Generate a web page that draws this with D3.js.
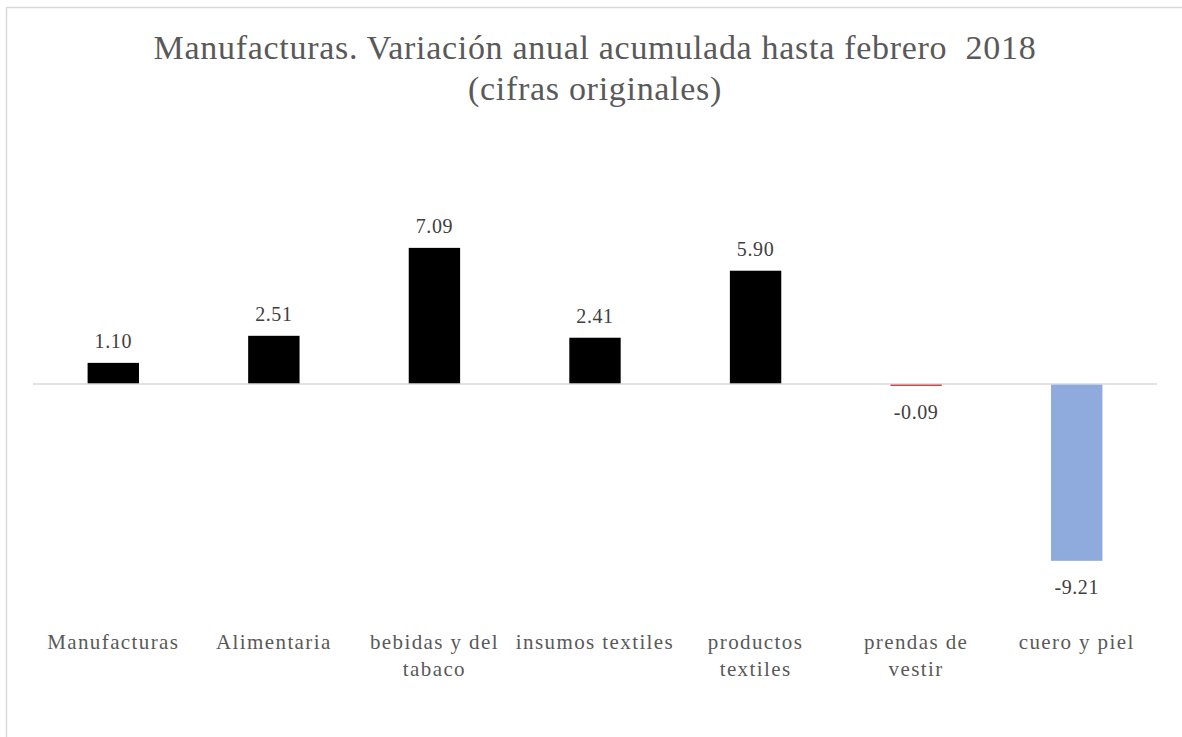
<meta charset="utf-8">
<style>
    body { margin: 0; background: #ffffff; }
    text { font-family: "Liberation Serif", "DejaVu Serif", serif; white-space: pre; }
</style>
<body>
<script src="https://d3js.org/d3.v7.min.js"></script>
<script>
    const categories = ["Manufacturas", "Alimentaria", "bebidas y del tabaco", "insumos textiles",
        "productos textiles", "prendas de vestir", "cuero y piel"];
    const labelLines = [["Manufacturas"], ["Alimentaria"], ["bebidas y del", "tabaco"], ["insumos textiles"],
        ["productos", "textiles"], ["prendas de", "vestir"], ["cuero y piel"]];
    const values = [1.10, 2.51, 7.09, 2.41, 5.90, -0.09, -9.21];
    const barColors = ["#000000", "#000000", "#000000", "#000000", "#000000", "#c00000", "#8faadc"];
    const titleLines = ["Manufacturas. Variación anual acumulada hasta febrero  2018", "(cifras originales)"];

    let width = 1182, height = 737;

    let svg = d3.select("body").append("svg")
        .attr("width", width)
        .attr("height", height);

    // chart frame
    svg.append("rect")
        .attr("x", 6.5).attr("y", 7.5)
        .attr("width", 1200).attr("height", 760)
        .style("fill", "none")
        .style("stroke", "#d9d9d9")
        .style("stroke-width", 1.5);

    svg.selectAll(".title")
        .data(titleLines)
        .enter().append("text")
        .attr("x", 595)
        .attr("y", function (d, i) { return 59 + i * 41; })
        .attr("text-anchor", "middle")
        .style("font-size", "34px")
        .style("letter-spacing", "0.7px")
        .style("fill", "#595959")
        .text(function (d) { return d; });

    let xScale = d3.scaleBand()
        .domain(categories)
        .range([33, 1157])
        .paddingInner(0.68)
        .paddingOuter(0.34);

    let yScale = d3.scaleLinear()
        .domain([-10, 8])
        .range([384 + 10 * 19.2, 384 - 8 * 19.2]);

    svg.selectAll(".bar")
        .data(values)
        .enter().append("rect")
        .attr("x", function (d, i) { return xScale(categories[i]); })
        .attr("y", function (d) { return yScale(Math.max(0, d)); })
        .attr("width", xScale.bandwidth())
        .attr("height", function (d) { return Math.max(1.7, Math.abs(yScale(d) - yScale(0))); })
        .style("fill", function (d, i) { return barColors[i]; });

    // zero line
    svg.append("line")
        .attr("x1", 33).attr("x2", 1157)
        .attr("y1", yScale(0)).attr("y2", yScale(0))
        .style("stroke", "#d9d9d9")
        .style("stroke-width", 1.5);

    svg.selectAll(".val")
        .data(values)
        .enter().append("text")
        .attr("x", function (d, i) { return xScale(categories[i]) + xScale.bandwidth() / 2; })
        .attr("y", function (d) { return d >= 0 ? yScale(d) - 15 : Math.max(yScale(d), yScale(0) + 1.7) + 33; })
        .attr("text-anchor", "middle")
        .style("font-size", "20px")
        .style("letter-spacing", "0.6px")
        .style("fill", "#404040")
        .text(function (d) { return d.toFixed(2); });

    let cat = svg.selectAll(".cat")
        .data(labelLines)
        .enter().append("text")
        .attr("text-anchor", "middle")
        .style("font-size", "21px")
        .style("letter-spacing", "1.4px")
        .style("fill", "#595959");

    cat.selectAll("tspan")
        .data(function (d, i) { return d.map(function (s) { return {s: s, i: i}; }); })
        .enter().append("tspan")
        .attr("x", function (d) { return xScale(categories[d.i]) + xScale.bandwidth() / 2; })
        .attr("y", function (d, j) { return 649 + j * 27; })
        .text(function (d) { return d.s; });
</script>
